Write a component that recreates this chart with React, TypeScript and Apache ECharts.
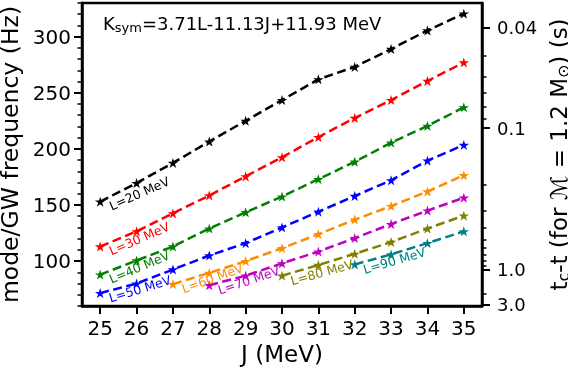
import React, { useEffect, useRef } from "react";
import * as echarts from "echarts";

// ---- data ----
const J = [25, 26, 27, 28, 29, 30, 31, 32, 33, 34, 35];
const L_VALUES = [20, 30, 40, 50, 60, 70, 80, 90];
const START_J = [25, 25, 25, 25, 27, 28, 30, 32];
const F_L20 = [153, 169.5, 187.5, 206.5, 225, 243.5, 262, 273, 289, 305.5, 320.5];
const F_L30 = [113, 126.5, 142.5, 158.5, 175.5, 192.5, 210.5, 227.5, 243.5, 260.5, 277];
const F_L40 = [88, 100.5, 113, 129, 143.5, 157.5, 173, 188.5, 205.5, 220.5, 237];
const F_L50 = [71.5, 80, 92.5, 105, 116, 130, 144, 158, 172, 189.5, 203.5];
const F_L60 = [79.5, 89.5, 100, 111.5, 124, 137, 149, 162, 176.5];
const F_L70 = [78.5, 87, 98, 108.5, 120.5, 133, 145, 156.5];
const F_L80 = [87, 96.5, 106.5, 117, 129, 140.5];
const F_L90 = [97, 106, 116, 126.5];
const F_ALL = [F_L20, F_L30, F_L40, F_L50, F_L60, F_L70, F_L80, F_L90];

const LEFT_MAJOR = [100, 150, 200, 250, 300];
const LEFT_MINOR = [60, 70, 80, 90, 110, 120, 130, 140, 160, 170, 180, 190, 210, 220, 230, 240, 260, 270, 280, 290, 310, 320, 330];
const T_MAJOR = [0.04, 0.1, 1.0, 3.0];
const T_MAJOR_TEXT = ["0.04", "0.1", "1.0", "3.0"];
const T_MINOR = [0.05, 0.06, 0.07, 0.08, 0.09, 0.2, 0.3, 0.4, 0.5, 0.6, 0.7, 0.8, 0.9, 2.0];

// ---- styles ----
const COLORS = ["#000000", "#ff0000", "#008000", "#0000ff", "#ff8c00", "#bf00bf", "#808000", "#008080"];
const LABEL_ROT = [24, 23.5, 23, 17, 20, 18.5, 15.5, 16.5];
const FONT = '"DejaVu Sans", sans-serif';
const CHIRP_A = 1.73e5; // t = A * f^(-8/3)
const tToF = (t: number) => Math.pow(CHIRP_A / t, 3 / 8);

function starPath() {
  const pts: string[] = [];
  for (let i = 0; i < 10; i++) {
    const r = i % 2 === 0 ? 1 : 0.382;
    const a = -Math.PI / 2 + (i * Math.PI) / 5;
    pts.push((r * Math.cos(a)).toFixed(4) + "," + (r * Math.sin(a)).toFixed(4));
  }
  return "path://M" + pts.join("L") + "Z";
}

export default function App() {
  const ref = useRef<HTMLDivElement>(null);
  useEffect(() => {
    if (!ref.current) return;
    const chart = echarts.init(ref.current, null, { renderer: "svg" });
    const star = starPath();
    const yBase = { type: "value", min: 60, max: 330, splitLine: { show: false } };
    const axisLine = { show: true, lineStyle: { color: "#000", width: 2.5 } };
    const majorTickRight = T_MAJOR.map(tToF);
    const series = F_ALL.map((vals, k) => {
      const j0 = J.indexOf(START_J[k]);
      return {
        type: "line",
        name: "L=" + L_VALUES[k] + " MeV",
        xAxisIndex: 0,
        yAxisIndex: 0,
        data: vals.map((v, i) => [J[j0 + i], v]),
        symbol: star,
        symbolSize: [10.5, 10],
        showAllSymbol: true,
        lineStyle: { color: COLORS[k], width: 2.5, type: [9, 4.5] },
        itemStyle: { color: COLORS[k], borderWidth: 0 },
        z: 3,
      };
    });
    chart.setOption({
      animation: false,
      grid: { left: 82, right: 86, top: 3, bottom: 65, show: true, borderColor: "#000", borderWidth: 2.5, containLabel: false, outerBoundsMode: "none" },
      xAxis: {
        type: "value",
        min: 24.5,
        max: 35.5,
        splitLine: { show: false },
        axisLine,
        axisTick: { show: true, customValues: J, length: 8, lineStyle: { width: 2, color: "#000" } },
        axisLabel: { customValues: J, fontSize: 20, color: "#000", fontFamily: FONT, margin: 12 },
        name: "J (MeV)",
        nameLocation: "middle",
        nameGap: 36,
        nameTextStyle: { fontSize: 23, color: "#000", fontFamily: FONT },
      },
      yAxis: [
        {
          ...yBase,
          position: "left",
          axisLine,
          axisTick: { show: true, customValues: LEFT_MAJOR, length: 8, lineStyle: { width: 2, color: "#000" } },
          axisLabel: { customValues: LEFT_MAJOR, fontSize: 20, color: "#000", fontFamily: FONT, margin: 11 },
          name: "mode/GW frequency (Hz)",
          nameLocation: "middle",
          nameGap: 56,
          nameTextStyle: { fontSize: 23.5, color: "#000", fontFamily: FONT },
        },
        {
          ...yBase,
          position: "left",
          axisLine: { show: false },
          axisTick: { show: true, customValues: LEFT_MINOR, length: 4.5, lineStyle: { width: 1.5, color: "#000" } },
          axisLabel: { show: false },
        },
        {
          ...yBase,
          position: "right",
          axisLine,
          axisTick: { show: true, customValues: majorTickRight, length: 8, lineStyle: { width: 2, color: "#000" } },
          axisLabel: {
            customValues: majorTickRight,
            fontSize: 18,
            color: "#000",
            fontFamily: FONT,
            margin: 15,
            formatter: (v: number) => {
              let best = 0;
              for (let i = 1; i < majorTickRight.length; i++) {
                if (Math.abs(majorTickRight[i] - v) < Math.abs(majorTickRight[best] - v)) best = i;
              }
              return T_MAJOR_TEXT[best];
            },
          },
          name: "{t|t}{s|c}{t|-t (for ℳ = 1.2 M}{s|⊙}{t|) (s)}",
          nameLocation: "middle",
          nameGap: 57,
          nameTextStyle: {
            rich: {
              t: { fontSize: 23, color: "#000", fontFamily: FONT },
              s: { fontSize: 16, color: "#000", fontFamily: FONT, padding: [8, 0, 0, 0] },
            },
          },
        },
        {
          ...yBase,
          position: "right",
          axisLine: { show: false },
          axisTick: { show: true, customValues: T_MINOR.map(tToF), length: 4.5, lineStyle: { width: 1.5, color: "#000" } },
          axisLabel: { show: false },
        },
      ],
      series,
    });

    const graphics: any[] = F_ALL.map((vals, k) => {
      const p = chart.convertToPixel({ xAxisIndex: 0, yAxisIndex: 0 }, [START_J[k], vals[0]]) as number[];
      return {
        type: "text",
        x: p[0] + 7,
        y: p[1] - 1,
        rotation: (LABEL_ROT[k] * Math.PI) / 180,
        silent: true,
        z: 10,
        style: {
          text: "L=" + L_VALUES[k] + " MeV",
          fill: COLORS[k],
          font: "12.5px " + FONT,
          textAlign: "left",
          textVerticalAlign: "top",
          align: "left",
          verticalAlign: "top",
        },
      };
    });
    graphics.push({
      type: "text",
      x: 103,
      y: 12,
      silent: true,
      z: 10,
      style: {
        text: "{k|K}{s|sym}{k|=3.71L-11.13J+11.93 MeV}",
        textAlign: "left",
        textVerticalAlign: "top",
        align: "left",
        verticalAlign: "top",
        rich: {
          k: { fontSize: 18, fill: "#000", color: "#000", fontFamily: FONT },
          s: { fontSize: 13, fill: "#000", color: "#000", fontFamily: FONT, padding: [9, 0, 0, 0] },
        },
      },
    });
    chart.setOption({ graphic: graphics });

    return () => chart.dispose();
  }, []);
  return <div ref={ref} style={{ position: "fixed", left: 0, top: 0, width: 568, height: 371 }} />;
}
